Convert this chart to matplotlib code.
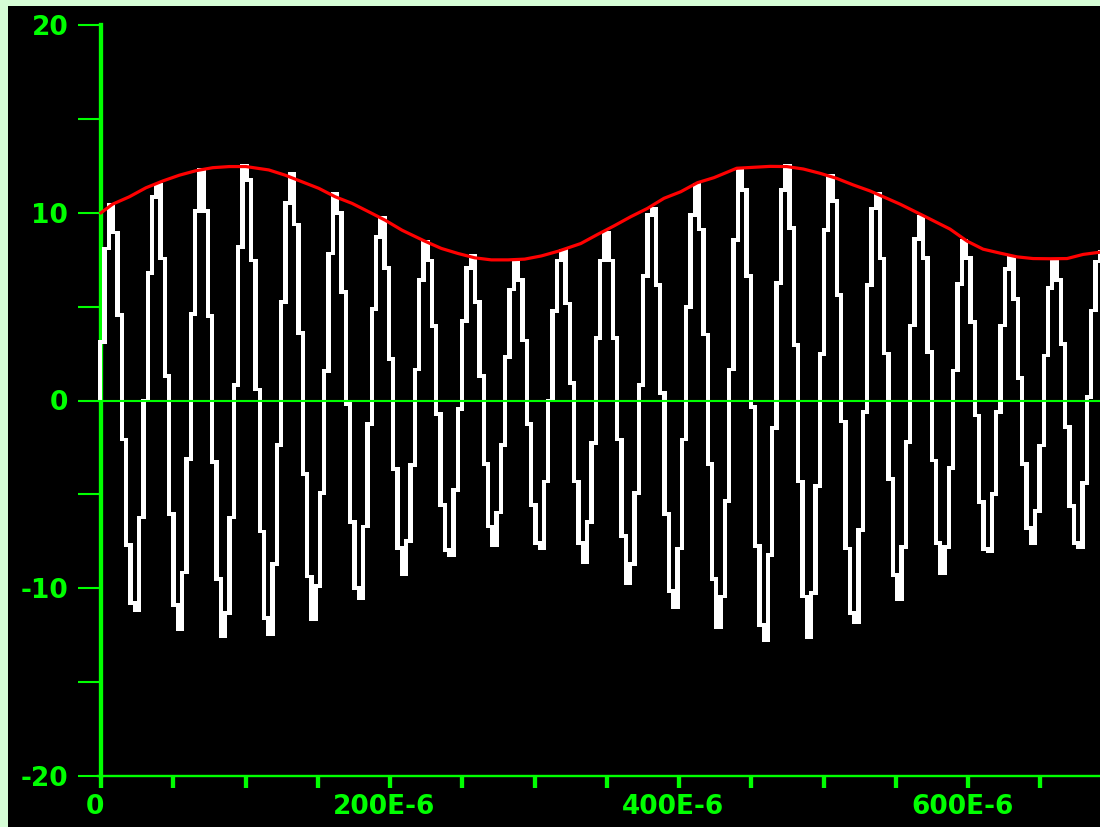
import numpy as np
import matplotlib
matplotlib.use("Agg")
import matplotlib.pyplot as plt
from matplotlib.patches import Rectangle
from matplotlib.transforms import ScaledTranslation

trace = [
    0.00, 3.11, 8.10, 10.41, 8.95, 4.54, -2.08, -7.70, -10.80, -11.17,
    -6.23, 0.00, 6.81, 10.85, 11.51, 7.56, 1.30, -6.05, -10.91, -12.19,
    -9.16, -3.11, 4.59, 10.11, 12.28, 10.11, 4.50, -3.29, -9.52, -12.54,
    -11.30, -6.23, 0.84, 8.19, 12.51, 11.74, 7.46, 0.59, -6.98, -11.57,
    -12.46, -8.72, -2.37, 5.25, 10.50, 12.05, 9.38, 3.59, -3.91, -9.38,
    -11.65, -9.88, -4.93, 1.57, 7.83, 11.03, 10.00, 5.78, -0.18, -6.46,
    -10.00, -10.53, -6.71, -1.26, 4.89, 8.72, 9.73, 7.06, 2.22, -3.65,
    -7.86, -9.25, -7.47, -3.42, 1.65, 6.41, 8.45, 7.46, 3.97, -0.73,
    -5.57, -7.95, -8.24, -4.77, -0.44, 4.22, 7.06, 7.70, 5.25, 1.30,
    -3.40, -6.71, -7.70, -5.96, -2.37, 2.31, 5.91, 7.46, 6.41, 3.20,
    -1.25, -5.57, -7.60, -7.88, -4.31, 0.00, 4.77, 7.46, 7.95, 5.16,
    0.94, -4.31, -7.60, -8.59, -6.46, -2.26, 3.33, 7.46, 8.93, 7.46,
    3.33, -2.08, -7.21, -9.75, -8.72, -4.93, 0.84, 6.64, 9.88, 10.20,
    6.17, 0.41, -6.05, -10.14, -10.98, -7.88, -2.08, 4.98, 9.88, 11.48,
    9.11, 3.51, -3.38, -9.52, -12.05, -10.44, -5.34, 1.65, 8.54, 12.28,
    11.21, 6.64, -0.36, -7.74, -11.97, -12.76, -8.24, -1.48, 6.26, 11.21,
    12.51, 9.20, 2.94, -4.31, -10.44, -12.58, -10.27, -4.57, 2.49, 9.07,
    11.98, 10.62, 5.60, -1.12, -7.88, -11.30, -11.83, -6.89, -0.62, 6.17,
    10.23, 11.03, 7.56, 2.50, -4.20, -9.30, -10.60, -7.80, -2.20, 4.00,
    8.60, 9.80, 7.60, 2.60, -3.20, -7.60, -9.20, -7.80, -3.60, 1.60,
    6.20, 8.50, 7.60, 4.20, -0.80, -5.40, -7.90, -8.00, -5.00, -0.60,
    4.00, 7.00, 7.60, 5.40, 1.20, -3.40, -6.80, -7.60, -5.90, -2.40,
    2.40, 6.00, 7.50, 6.40, 3.00, -1.40, -5.60, -7.60, -7.80, -4.40,
    0.20, 4.80, 7.40, 7.90,
]
dt_us = 2.981        # column spacing
t_first_us = -2.0    # left edge of the first column

# red envelope, read at points along the curve
env_t_us = [0, 8.1, 19.6, 31.1, 42.7, 54.2, 65.7, 77.3, 88.8, 100.3,
            116.1, 127.5, 139.1, 150.7, 162.1, 173.7, 185.3, 196.7, 208.3, 224.0,
            235.5, 247.1, 258.6, 270.1, 281.7, 293.2, 304.7, 316.3, 332.0, 343.5,
            355.0, 366.6, 378.1, 389.6, 401.2, 412.7, 424.2, 439.9, 451.4, 463.0,
            474.5, 486.0, 497.6, 509.1, 520.6, 532.2, 552.9, 570.2, 587.5, 599.3,
            610.4, 622.1, 633.9, 645.0, 656.7, 668.5, 679.6, 691.3]
env_v = [10.0, 10.46, 10.85, 11.33, 11.69, 12.0, 12.24, 12.4, 12.46, 12.46,
         12.28, 12.0, 11.65, 11.3, 10.85, 10.5, 10.05, 9.6, 9.07, 8.49,
         8.1, 7.83, 7.6, 7.49, 7.49, 7.53, 7.7, 7.95, 8.36, 8.84,
         9.3, 9.79, 10.23, 10.77, 11.12, 11.6, 11.87, 12.37, 12.42, 12.47,
         12.46, 12.33, 12.1, 11.83, 11.48, 11.16, 10.46, 9.8, 9.13, 8.49,
         8.06, 7.85, 7.65, 7.56, 7.55, 7.56, 7.78, 7.9]

xticks_us = [0, 50, 100, 150, 200, 250, 300, 350, 400, 450, 500, 550, 600, 650]
xtick_labels = ["0", "", "", "", "200E-6", "", "", "", "400E-6", "", "", "", "600E-6", ""]
yticks = [-20, -15, -10, -5, 0, 5, 10, 15, 20]
ytick_labels = ["-20", "", "-10", "", "0", "", "10", "", "20"]

GREEN = "#00ff00"
BORDER = "#d6fdd6"

plt.rcParams['font.family'] = ['DejaVu Sans']

fig = plt.figure(figsize=(11, 8.27), dpi=100, facecolor=BORDER)
fig.patches.append(Rectangle((8 / 1100, 0), 1, 1 - 6 / 827, transform=fig.transFigure,
                             facecolor="black", edgecolor="none", zorder=-10))

ax = fig.add_axes([98 / 1100, 51 / 827, 1 - 98 / 1100, 751 / 827])
ax.set_facecolor("black")

v = np.array(trace)
lo = np.minimum(v[:-1], v[1:])
hi = np.maximum(v[:-1], v[1:])
edges = t_first_us + dt_us * np.arange(len(lo))
ax.bar(edges, hi - lo + 0.2, bottom=lo - 0.1, width=dt_us, align='edge',
       color="white", linewidth=0, zorder=3)

ax.plot(env_t_us, env_v, color="#ff0000", lw=2.3, zorder=4)
ax.axhline(0, color=GREEN, lw=1.5, zorder=5)

ax.set_xlim(-2.08, 691.3)
ax.set_ylim(-20, 20)

for s in ['top', 'right']:
    ax.spines[s].set_visible(False)
ax.spines['left'].set_position(('data', 0))
ax.spines['left'].set_color(GREEN)
ax.spines['left'].set_linewidth(3.1)
ax.spines['bottom'].set_color(GREEN)
ax.spines['bottom'].set_linewidth(1.7)

ax.set_xticks(xticks_us)
ax.set_xticklabels(xtick_labels)
ax.set_yticks(yticks)
ax.set_yticklabels(ytick_labels)
ax.tick_params(axis='y', direction='out', length=16.5, width=1.5, color=GREEN,
               pad=7, labelsize=19, labelcolor=GREEN)
ax.tick_params(axis='x', direction='out', length=8.6, width=3.1, color=GREEN,
               pad=4, labelsize=19, labelcolor=GREEN)
for lab in ax.get_xticklabels() + ax.get_yticklabels():
    lab.set_fontweight('bold')
for lab in ax.get_xticklabels():
    lab.set_transform(lab.get_transform() + ScaledTranslation(-0.06, 0, fig.dpi_scale_trans))

fig.savefig("out.png", dpi=100, facecolor=BORDER)
